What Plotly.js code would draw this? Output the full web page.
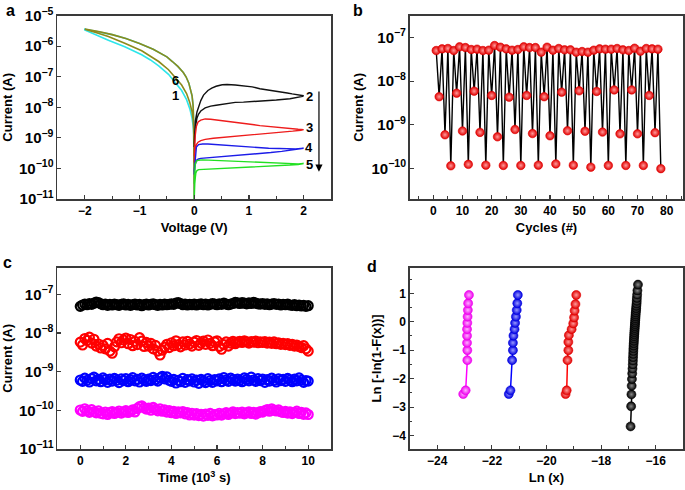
<!DOCTYPE html>
<html><head><meta charset="utf-8">
<script src="https://cdn.plot.ly/plotly-3.0.1.min.js"></script>
<style>html,body{margin:0;padding:0;background:#fff}#chart{width:685px;height:490px}</style>
</head><body><div id="chart"></div>
<script>
// ---------- Panel a : I-V sweeps (V, A) ----------
const negUpperV = [-2.0,-1.75,-1.5,-1.25,-1.0,-0.75,-0.6,-0.5,-0.4,-0.3,-0.2,-0.15,-0.1,-0.06,-0.04,-0.02,-0.01,-0.004,0];
const negUpperI = [3.63e-6,3.02e-6,2.40e-6,1.78e-6,1.23e-6,7.94e-7,5.75e-7,4.47e-7,3.16e-7,2.19e-7,1.38e-7,1.0e-7,6.31e-8,3.55e-8,2.40e-8,1.12e-8,5.01e-9,1.26e-9,1.0e-10];
const curve1LowerV = [0,-0.002,-0.005,-0.01,-0.02,-0.04,-0.08,-0.14,-0.23,-0.35,-0.47,-0.65,-0.8,-0.96,-1.27,-1.57,-1.8,-2.0];
const curve1LowerI = [1e-11,1.58e-10,6.31e-10,1.26e-9,2.51e-9,4.47e-9,8.91e-9,1.78e-8,3.55e-8,6.76e-8,1.20e-7,2.29e-7,3.55e-7,5.25e-7,9.55e-7,1.58e-6,2.40e-6,3.39e-6];
const curve6LowerV = [0,-0.002,-0.005,-0.01,-0.02,-0.04,-0.08,-0.14,-0.23,-0.35,-0.47,-0.65,-0.8,-0.96,-1.27,-1.57,-1.8,-2.0];
const curve6LowerI = [1e-11,2.51e-10,1.0e-9,2.0e-9,3.98e-9,7.08e-9,1.41e-8,2.82e-8,5.37e-8,1.0e-7,1.70e-7,3.16e-7,4.79e-7,7.08e-7,1.26e-6,2.09e-6,2.82e-6,3.63e-6];

const curve2V = [0.0,0.01,0.02,0.05,0.08,0.12,0.17,0.25,0.32,0.4,0.51,0.6,0.75,0.9,1.06,1.2,1.36,1.55,1.7,1.79,1.9,2.0,
                 1.98,1.9,1.75,1.5,1.36,1.2,1.06,0.9,0.75,0.6,0.5,0.4,0.3,0.2,0.12,0.08,0.05,0.03,0.02,0.01,0.0];
const curve2I = [6.31e-10,2.0e-9,3.55e-9,7.08e-9,1.07e-8,1.66e-8,2.51e-8,3.55e-8,4.27e-8,4.90e-8,5.50e-8,5.62e-8,5.37e-8,5.01e-8,4.68e-8,4.07e-8,3.72e-8,3.31e-8,2.95e-8,2.75e-8,2.57e-8,2.40e-8,
                 2.29e-8,2.14e-8,1.91e-8,1.74e-8,1.66e-8,1.58e-8,1.55e-8,1.48e-8,1.45e-8,1.35e-8,1.26e-8,1.17e-8,1.10e-8,9.55e-9,7.59e-9,6.03e-9,4.47e-9,3.16e-9,2.24e-9,1.26e-9,5.01e-10];
const curve3V = [0.0,0.01,0.02,0.04,0.07,0.12,0.2,0.3,0.45,0.6,0.75,0.9,1.06,1.2,1.36,1.55,1.7,1.8,1.9,2.0,
                 1.95,1.8,1.6,1.36,1.2,1.06,0.9,0.75,0.6,0.5,0.35,0.2,0.12,0.07,0.04,0.02,0.01,0.0];
const curve3I = [2.51e-10,6.31e-10,1.26e-9,2.40e-9,3.31e-9,3.80e-9,4.17e-9,4.07e-9,3.80e-9,3.55e-9,3.24e-9,3.02e-9,2.75e-9,2.51e-9,2.34e-9,2.14e-9,2.04e-9,1.95e-9,1.91e-9,1.86e-9,
                 1.78e-9,1.66e-9,1.55e-9,1.41e-9,1.35e-9,1.29e-9,1.20e-9,1.17e-9,1.10e-9,1.05e-9,9.77e-10,8.91e-10,8.13e-10,7.24e-10,6.03e-10,4.47e-10,3.16e-10,1.58e-10];
const curve4V = [0.0,0.01,0.02,0.04,0.08,0.15,0.25,0.4,0.6,0.75,0.9,1.06,1.2,1.36,1.55,1.7,1.85,2.0,
                 1.9,1.75,1.6,1.4,1.2,1.06,0.9,0.75,0.6,0.45,0.3,0.2,0.12,0.08,0.05,0.03,0.01,0.0];
const curve4I = [7.94e-11,1.58e-10,3.16e-10,5.01e-10,6.03e-10,6.31e-10,6.31e-10,6.03e-10,5.62e-10,5.50e-10,5.25e-10,5.01e-10,4.79e-10,4.57e-10,4.47e-10,4.37e-10,4.37e-10,4.57e-10,
                 4.27e-10,3.89e-10,3.63e-10,3.31e-10,3.09e-10,2.95e-10,2.75e-10,2.63e-10,2.57e-10,2.45e-10,2.34e-10,2.24e-10,2.14e-10,2.04e-10,1.91e-10,1.58e-10,1.12e-10,6.31e-11];
const curve5V = [0.0,0.01,0.02,0.04,0.08,0.15,0.3,0.5,0.75,1.0,1.2,1.36,1.55,1.75,1.9,2.0,
                 1.9,1.75,1.5,1.36,1.2,1.0,0.75,0.5,0.3,0.15,0.08,0.05,0.03,0.02,0.01,0.0];
const curve5I = [3.16e-11,7.94e-11,1.41e-10,1.74e-10,1.86e-10,1.91e-10,1.86e-10,1.78e-10,1.66e-10,1.58e-10,1.55e-10,1.51e-10,1.48e-10,1.45e-10,1.41e-10,1.45e-10,
                 1.35e-10,1.29e-10,1.23e-10,1.20e-10,1.17e-10,1.12e-10,1.07e-10,1.02e-10,1.0e-10,9.55e-11,9.12e-11,8.51e-11,7.08e-11,5.01e-11,3.16e-11,1.0e-11];

// ---------- Panel b : endurance ----------
const cycles = [1,2,3,4,5,6,7,8,9,10,11,12,13,14,15,16,17,18,19,20,21,22,23,24,25,26,27,28,29,30,31,32,33,34,35,36,37,38,39,40,
                41,42,43,44,45,46,47,48,49,50,51,52,53,54,55,56,57,58,59,60,61,62,63,64,65,66,67,68,69,70,71,72,73,74,75,76,77,78];
const cycleCurrent = [5.03e-8,4.4e-9,5.49e-8,5.9e-10,5.60e-8,1.15e-10,5.03e-8,5.3e-9,6.11e-8,7.2e-10,5.89e-8,1.24e-10,5.31e-8,5.9e-9,5.40e-8,6.7e-10,5.03e-8,1.19e-10,5.12e-8,4.7e-9,
                      6.55e-8,5.3e-10,6.00e-8,1.17e-10,5.49e-8,4.3e-9,5.12e-8,7.8e-10,5.31e-8,1.17e-10,6.11e-8,4.7e-9,5.89e-8,6.3e-10,5.89e-8,1.19e-10,4.61e-8,4.4e-9,6.00e-8,5.6e-10,
                      5.12e-8,1.27e-10,5.60e-8,5.6e-9,5.21e-8,7.3e-10,5.21e-8,1.19e-10,4.61e-8,6.0e-9,4.77e-8,7.1e-10,4.61e-8,1.07e-10,5.12e-8,5.8e-9,5.49e-8,6.8e-10,5.40e-8,1.17e-10,
                      5.40e-8,6.3e-9,5.60e-8,6.2e-10,5.21e-8,1.17e-10,5.03e-8,6.3e-9,5.69e-8,6.2e-10,4.86e-8,1.17e-10,5.60e-8,4.7e-9,5.49e-8,6.6e-10,5.40e-8,0.99e-10];

// ---------- Panel c : retention (time in 10^3 s) ----------
const time = [0,0.1,0.2,0.3,0.4,0.5,0.6,0.7,0.8,0.9,1,1.1,1.2,1.3,1.4,1.5,1.6,1.7,1.8,1.9,2,2.1,2.2,2.3,2.4,2.5,2.6,2.7,2.8,2.9,
              3,3.1,3.2,3.3,3.4,3.5,3.6,3.7,3.8,3.9,4,4.1,4.2,4.3,4.4,4.5,4.6,4.7,4.8,4.9,5,5.1,5.2,5.3,5.4,5.5,5.6,5.7,5.8,5.9,
              6,6.1,6.2,6.3,6.4,6.5,6.6,6.7,6.8,6.9,7,7.1,7.2,7.3,7.4,7.5,7.6,7.7,7.8,7.9,8,8.1,8.2,8.3,8.4,8.5,8.6,8.7,8.8,8.9,
              9,9.1,9.2,9.3,9.4,9.5,9.6,9.7,9.8,9.9,10];
const level1 = [4.9,5.3,5.6,5.4,5.8,5.5,5.9,6.3,6.1,5.7, 5.4,5.6,5.2,5.5,5.3,5.6,5.4,5.2,5.5,5.7, 5.3,5.5,5.2,5.4,5.6,5.3,5.5,5.1,5.4,5.6,
                5.3,5.5,5.7,5.4,5.2,5.5,5.3,5.6,5.4,5.5, 5.7,5.5,5.9,6.1,5.8,5.4,5.6,5.3,5.5,5.4, 5.6,5.3,5.5,5.7,5.4,5.6,5.3,5.5,5.8,5.6,
                5.4,5.7,5.5,5.9,5.6,5.4,5.6,5.8,6.2,6.0, 5.8,6.1,5.9,5.7,6.0,5.8,6.2,5.9,5.7,5.6, 5.8,5.5,5.7,5.4,5.6,5.8,5.5,5.6,5.3,5.5,
                5.4,5.6,5.3,5.2,5.4,5.1,5.3,5.0,5.2,4.9, 5.1]; // x 1e-8 A
const level2 = [5.8,4.9,7.2,6.4,7.8,5.5,6.9,4.6,5.2,4.1, 4.8,3.9,5.4,3.4,3.0,4.4,5.9,7.1,5.6,6.6, 7.4,5.3,6.8,4.7,6.1,5.0,7.6,6.2,4.5,5.7,
                4.6,5.4,3.9,4.8,3.4,2.7,3.6,4.3,5.1,4.2, 5.6,4.7,6.3,5.0,4.4,5.9,4.9,6.1,5.2,4.6, 5.8,6.4,4.8,5.5,6.2,5.1,6.6,5.4,4.7,5.9,
                6.3,4.5,3.8,5.0,5.9,4.6,5.5,6.1,5.3,5.8, 6.1,5.7,6.3,5.9,5.5,6.0,5.8,6.2,5.6,5.9, 5.7,6.0,5.5,5.8,5.4,5.9,5.3,5.6,5.1,5.4,
                5.0,5.3,4.8,5.1,4.6,4.9,4.5,4.2,4.7,3.9, 3.4]; // x 1e-9 A
const level3 = [6.1,5.6,6.8,6.0,5.4,6.6,7.2,5.8,6.3,5.5, 6.9,6.2,5.3,6.4,5.7,6.7,6.0,5.2,6.5,5.9, 6.6,5.5,6.2,7.0,5.8,6.3,5.4,6.8,6.1,5.6,
                6.4,5.9,7.1,6.2,5.7,6.9,7.6,6.5,7.3,6.0, 5.6,6.3,5.1,6.0,5.5,6.7,5.3,6.2,5.8,6.5, 5.4,6.1,5.0,6.3,5.7,5.2,6.6,5.9,5.3,6.2,
                5.8,6.5,5.5,7.0,6.1,5.6,6.8,6.2,5.7,6.4, 6.0,5.5,6.9,6.3,5.8,7.2,6.1,5.6,6.6,5.9, 6.4,5.3,6.2,5.7,6.8,6.0,5.4,6.5,5.9,6.3,
                5.6,6.7,6.1,5.5,6.4,5.8,6.9,6.0,5.3,5.9, 5.7]; // x 1e-10 A
const level4 = [10.2,9.4,11.0,9.8,8.9,10.4,9.2,8.6,9.7,8.4, 8.1,9.0,7.8,8.7,9.3,8.3,8.9,9.6,8.5,9.1, 9.8,8.8,9.5,10.3,9.1,11.2,12.4,13.0,11.6,10.8,
                11.4,10.1,11.9,10.6,9.7,10.9,9.5,10.3,9.0,9.8, 8.7,9.4,8.3,9.1,8.6,9.3,8.1,8.8,7.6,8.4, 7.5,8.2,7.3,7.9,7.1,8.0,7.4,8.3,7.2,7.7,
                7.6,8.4,7.5,8.1,8.7,7.8,8.5,9.1,8.2,8.8, 8.4,9.0,8.1,8.6,9.2,8.3,8.9,8.0,8.7,9.3, 9.0,9.8,10.4,9.5,10.9,10.1,9.6,10.3,9.2,8.8,
                9.4,8.5,9.1,8.2,8.8,9.5,8.3,8.9,7.9,8.6, 7.8]; // x 1e-11 A
const levelUnits = [1e-8,1e-9,1e-10,1e-11];

// ---------- Panel d : Weibull ----------
const weibullY12 = [-2.54,-2.41,-1.35,-1.0,-0.74,-0.49,-0.26,-0.04,0.18,0.41,0.65,0.94];
const magentaX = [-23.05,-22.96,-22.90,-22.90,-22.91,-22.91,-22.91,-22.90,-22.89,-22.88,-22.87,-22.84];
const blueX = [-21.38,-21.32,-21.26,-21.23,-21.23,-21.21,-21.17,-21.15,-21.12,-21.09,-21.07,-21.05];
const redX = [-19.30,-19.26,-19.23,-19.20,-19.20,-19.18,-19.08,-19.02,-18.99,-18.97,-18.94,-18.91];
const redY = [-2.54,-2.41,-1.35,-1.0,-0.71,-0.47,-0.26,-0.06,0.15,0.39,0.62,0.94];
const blackX = [-16.92,-16.90,-16.89,-16.88,-16.87,-16.86,-16.85,-16.84,-16.835,-16.83,-16.825,-16.82,-16.815,-16.81,-16.805,-16.80,-16.795,-16.79,-16.785,-16.78,
                -16.775,-16.77,-16.765,-16.76,-16.755,-16.75,-16.745,-16.74,-16.735,-16.73,-16.72,-16.715,-16.71,-16.70,-16.695,-16.69,-16.68,-16.67,-16.65];
const blackY = [-3.676,-2.970,-2.552,-2.250,-2.013,-1.817,-1.648,-1.500,-1.367,-1.246,-1.134,-1.031,-0.934,-0.842,-0.755,-0.672,-0.592,-0.514,-0.440,-0.367,
                -0.295,-0.225,-0.156,-0.087,-0.019,0.049,0.117,0.186,0.255,0.327,0.400,0.476,0.556,0.640,0.732,0.834,0.952,1.097,1.305];

const FAM = '"Liberation Sans", Arial, Helvetica, sans-serif';
const F = (s) => ({family: FAM, size: s, color: '#000', weight: 'bold'});
const sphere = (edge, center, size) => ({size: size, color: edge, gradient: {type: 'radial', color: center}, line: {width: 0.6, color: edge}});
const ring = (c) => ({symbol:'circle-open', size:9, color:c, line:{width:2.2}});

const traces = [
  {x: curve1LowerV.concat(negUpperV), y: curve1LowerI.concat(negUpperI), xaxis:'x', yaxis:'y', mode:'lines', line:{color:'#2ee6ea', width:1.6}},
  {x: curve6LowerV.concat(negUpperV), y: curve6LowerI.concat(negUpperI), xaxis:'x', yaxis:'y', mode:'lines', line:{color:'#8d8a1c', width:1.6}},
  {x: curve2V, y: curve2I, xaxis:'x', yaxis:'y', mode:'lines', line:{color:'#111111', width:1.4}},
  {x: curve3V, y: curve3I, xaxis:'x', yaxis:'y', mode:'lines', line:{color:'#ee1c1c', width:1.4}},
  {x: curve4V, y: curve4I, xaxis:'x', yaxis:'y', mode:'lines', line:{color:'#1c1ce8', width:1.4}},
  {x: curve5V, y: curve5I, xaxis:'x', yaxis:'y', mode:'lines', line:{color:'#22e022', width:1.4}},

  {x: cycles, y: cycleCurrent, xaxis:'x2', yaxis:'y2', mode:'lines+markers', line:{color:'#000', width:1.4},
   marker: sphere('#e00000', '#ff9a9a', 8.5)},

  {x: time, y: level1.map(v => v*levelUnits[0]), xaxis:'x3', yaxis:'y3', mode:'markers', marker: ring('#000000')},
  {x: time, y: level2.map(v => v*levelUnits[1]), xaxis:'x3', yaxis:'y3', mode:'markers', marker: ring('#ff0000')},
  {x: time, y: level3.map(v => v*levelUnits[2]), xaxis:'x3', yaxis:'y3', mode:'markers', marker: ring('#0000ff')},
  {x: time, y: level4.map(v => v*levelUnits[3]), xaxis:'x3', yaxis:'y3', mode:'markers', marker: ring('#ff00ff')},

  {x: magentaX, y: weibullY12, xaxis:'x4', yaxis:'y4', mode:'lines+markers', line:{color:'#ff00ff', width:1.5}, marker: sphere('#ee00ee', '#ffb0ff', 9)},
  {x: blueX, y: weibullY12, xaxis:'x4', yaxis:'y4', mode:'lines+markers', line:{color:'#0000ff', width:1.5}, marker: sphere('#0000e0', '#9a9aff', 9)},
  {x: redX, y: redY, xaxis:'x4', yaxis:'y4', mode:'lines+markers', line:{color:'#ff0000', width:1.5}, marker: sphere('#e00000', '#ff9a9a', 9)},
  {x: blackX, y: blackY, xaxis:'x4', yaxis:'y4', mode:'lines+markers', line:{color:'#000', width:1.5}, marker: sphere('#000000', '#888888', 9)}
];

const ax = (o) => Object.assign({
  showline:true, mirror:true, linecolor:'#3a3a3a', linewidth:1.6,
  ticks:'inside', ticklen:4, tickwidth:1.2, tickcolor:'#3a3a3a',
  showgrid:false, zeroline:false, tickfont:F(12), fixedrange:true
}, o);
const minor = (d) => ({ticks:'inside', ticklen:2.5, tickwidth:1, tickcolor:'#3a3a3a', dtick:d, showgrid:false});
const logY = {type:'log', dtick:1, exponentformat:'power', showexponent:'all'};

const XA = [0.0839, 0.4832], XB = [0.5985, 0.9971];
const YT = [0.5939, 0.9680], YB = [0.0837, 0.4537];

const layout = {
  width:685, height:490, margin:{l:0, r:0, t:0, b:0}, paper_bgcolor:'#fff', plot_bgcolor:'#fff',
  showlegend:false, font:F(13),
  xaxis: ax({domain:XA, anchor:'y', range:[-2.5,2.5], dtick:1, tick0:0, minor:minor(0.5), title:{text:'Voltage (V)', font:F(13), standoff:6}}),
  yaxis: ax(Object.assign({domain:YT, anchor:'x', range:[-11,-5], title:{text:'Current (A)', font:F(13), standoff:4}}, logY)),
  xaxis2: ax({domain:XB, anchor:'y2', range:[-8,85.6], dtick:10, tick0:0, minor:minor(5), title:{text:'Cycles (#)', font:F(13), standoff:6}}),
  yaxis2: ax(Object.assign({domain:YT, anchor:'x2', range:[-10.7,-6.5], title:{text:'Current (A)', font:F(13), standoff:5}}, logY)),
  xaxis3: ax({domain:XA, anchor:'y3', range:[-1,11], dtick:2, tick0:0, minor:minor(1), title:{text:'Time (10<sup>3</sup> s)', font:F(13), standoff:6}}),
  yaxis3: ax(Object.assign({domain:YB, anchor:'x3', range:[-11,-6.31], title:{text:'Current (A)', font:F(13), standoff:8}}, logY)),
  xaxis4: ax({domain:XB, anchor:'y4', range:[-25,-15], dtick:2, tick0:0, minor:minor(1), title:{text:'Ln (x)', font:F(13), standoff:6}}),
  yaxis4: ax({domain:YB, anchor:'x4', range:[-4.47,1.9], dtick:1, tick0:0, minor:minor(0.5), title:{text:'Ln [-ln(1-F(x))]', font:F(13), standoff:8}}),
  annotations: [
    {text:'a', xref:'paper', yref:'paper', x:10/685, y:1-10/490, xanchor:'center', yanchor:'middle', showarrow:false, font:F(16)},
    {text:'b', xref:'paper', yref:'paper', x:358/685, y:1-10/490, xanchor:'center', yanchor:'middle', showarrow:false, font:F(16)},
    {text:'c', xref:'paper', yref:'paper', x:7/685, y:1-262/490, xanchor:'center', yanchor:'middle', showarrow:false, font:F(16)},
    {text:'d', xref:'paper', yref:'paper', x:372/685, y:1-266/490, xanchor:'center', yanchor:'middle', showarrow:false, font:F(16)},
    {text:'', xref:'x', yref:'y', x:2.28, y:-10.11, axref:'x', ayref:'y', ax:2.28, ay:-7.43, showarrow:true, arrowhead:2, arrowsize:1.2, arrowwidth:1.2, arrowcolor:'#000'},
    {text:'2', xref:'x', yref:'y', x:2.1, y:-7.64, showarrow:false, font:F(13)},
    {text:'3', xref:'x', yref:'y', x:2.1, y:-8.66, showarrow:false, font:F(13)},
    {text:'4', xref:'x', yref:'y', x:2.1, y:-9.32, showarrow:false, font:F(13)},
    {text:'5', xref:'x', yref:'y', x:2.1, y:-9.87, showarrow:false, font:F(13)},
    {text:'6', xref:'x', yref:'y', x:-0.35, y:-7.13, showarrow:false, font:F(13)},
    {text:'1', xref:'x', yref:'y', x:-0.35, y:-7.61, showarrow:false, font:F(13)}
  ]
};

Plotly.newPlot('chart', traces, layout, {displayModeBar:false, staticPlot:true});
</script>
</body></html>
